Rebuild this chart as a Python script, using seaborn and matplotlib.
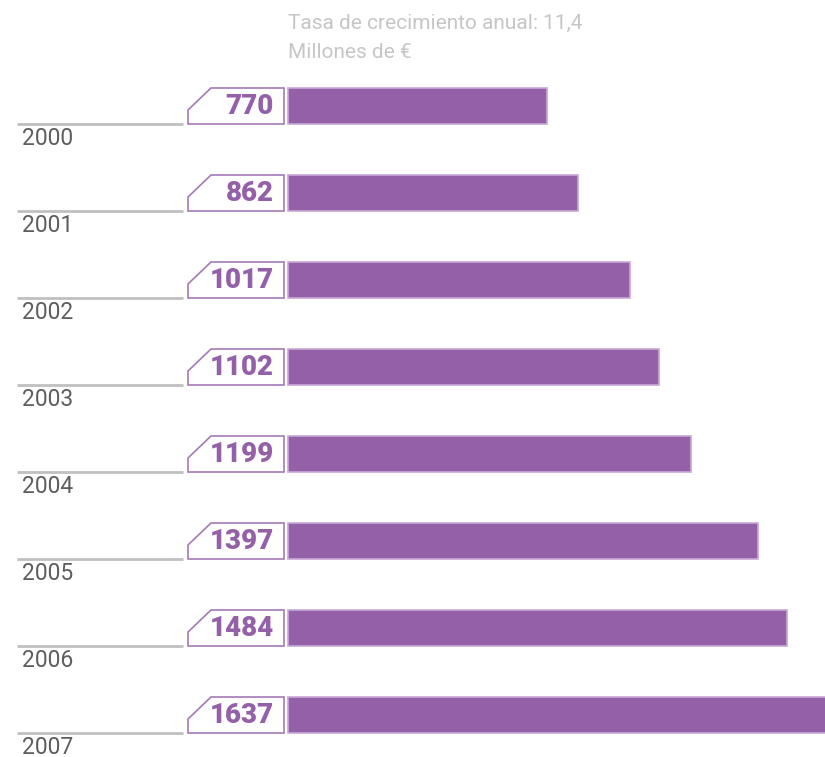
import matplotlib.pyplot as plt
from matplotlib.patches import Polygon
import pandas as pd
import seaborn as sns

# data
years = ['2000', '2001', '2002', '2003', '2004', '2005', '2006', '2007']
values = [770, 862, 1017, 1102, 1199, 1397, 1484, 1637]
title_lines = ['Tasa de crecimiento anual: 11,4', 'Millones de \u20ac']

BAR = '#9461a8'
BAR_EDGE = '#c7a8d3'
BOX_EDGE = '#a47ab5'
GREY_LINE = '#c0c0c0'

W, H = 825, 757
X0 = 288            # pixel where the value axis starts
PX_PER_UNIT = 0.3364
ROW = 87            # pixel spacing between rows
Y0 = 106            # pixel centre of first bar

sns.set_theme(style='white')
plt.rcParams['font.family'] = ['Roboto', 'DejaVu Sans']

fig = plt.figure(figsize=(W / 100, H / 100), dpi=100)
ax = fig.add_axes([0, 0, 1, 1])

df = pd.DataFrame({'year': years, 'value': values})
sns.barplot(data=df, x='value', y='year', orient='h', color=BAR,
            saturation=1, width=36 / ROW, edgecolor=BAR_EDGE, linewidth=1.2, ax=ax)

ax.set_xlim(-X0 / PX_PER_UNIT, (W - X0) / PX_PER_UNIT)
ax.set_ylim((H - Y0) / ROW, -Y0 / ROW)
ax.axis('off')


def px(x):
    return (x - X0) / PX_PER_UNIT


def py(dy):
    return dy / ROW


for i, (yr, v) in enumerate(zip(years, values)):
    top = i - py(18)
    bot = i + py(18)
    # chamfered label box
    box = Polygon([(px(188), bot), (px(188), i + py(4)), (px(211), top),
                   (px(284), top), (px(284), bot)],
                  closed=True, facecolor='white', edgecolor=BOX_EDGE, linewidth=1.2)
    ax.add_patch(box)
    ax.text(px(274), i, str(v), ha='right', va='center', fontsize=20,
            fontweight='heavy', color=BAR)
    # grey baseline + year
    ax.plot([px(17), px(183)], [bot, bot], color=GREY_LINE, lw=2, solid_capstyle='butt')
    ax.text(px(22), i + py(32.5), yr, ha='left', va='center', fontsize=16.5,
            color='#5e5e5e')

fig.text(X0 / W, 1 - 23 / H, title_lines[0], ha='left', va='center',
         fontsize=15, color='#c6c6c6')
fig.text(X0 / W, 1 - 52 / H, title_lines[1], ha='left', va='center',
         fontsize=15, color='#c6c6c6')

fig.savefig('out.png', dpi=100)
